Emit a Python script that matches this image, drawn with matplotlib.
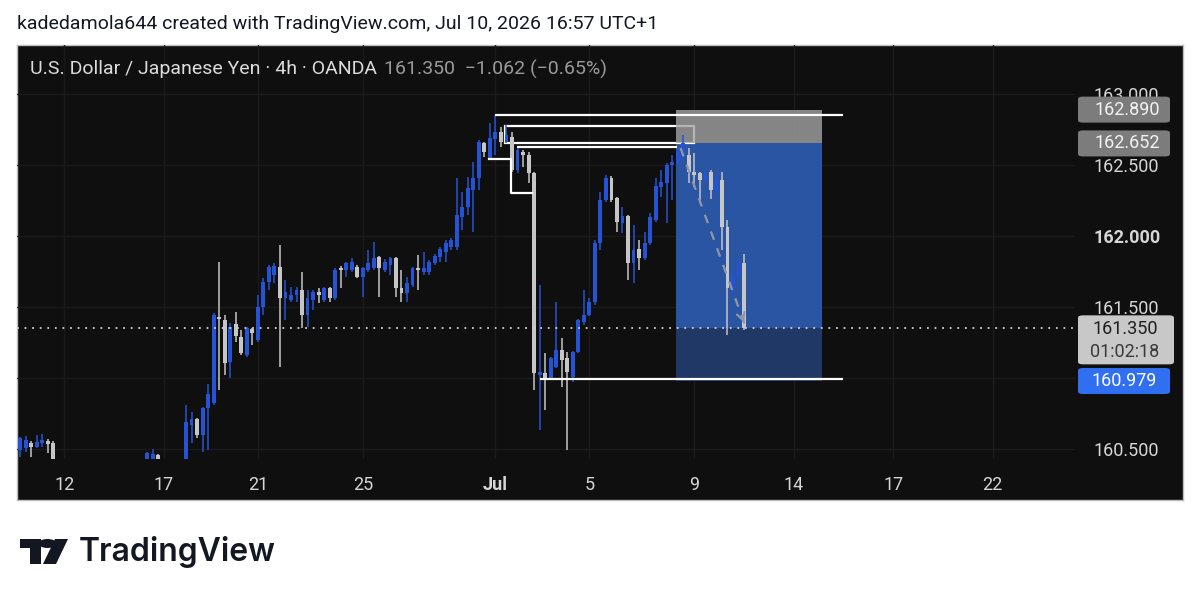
import matplotlib
matplotlib.use("Agg")
import matplotlib.pyplot as plt
from matplotlib.patches import Rectangle, FancyBboxPatch, Polygon, Circle
import numpy as np

plt.rcParams['font.family'] = ['Roboto', 'DejaVu Sans']

# ---------------- data (USD/JPY 4h, OANDA) ----------------
opens = [160.493, 160.507, 160.542, 160.514, 160.542, 160.556, 160.542, 160.35, 160.25, 160.28,
         160.22, 160.27, 160.31, 160.26, 160.18, 160.21, 160.29, 160.34, 160.30, 160.27,
         160.32, 160.35, 160.31, 160.38, 160.40, 160.458, 160.40, 160.30, 160.33, 160.28,
         160.30, 160.669, 160.711, 160.599, 160.789, 160.824, 161.430, 161.408, 161.113, 161.380,
         161.289, 161.162, 161.345, 161.268, 161.500, 161.676, 161.725, 161.782, 161.563, 161.549,
         161.585, 161.620, 161.444, 161.549, 161.606, 161.549, 161.634, 161.563, 161.775, 161.761,
         161.761, 161.782, 161.711, 161.761, 161.775, 161.852, 161.761, 161.796, 161.845, 161.634,
         161.599, 161.655, 161.775, 161.746, 161.746, 161.810, 161.852, 161.887, 161.923, 161.923,
         162.134, 162.204, 162.324, 162.408, 162.655, 162.549, 162.683, 162.732, 162.662, 162.697,
         162.465, 162.592, 162.570, 162.444, 161.021, 161.035, 161.000, 161.077, 161.197, 161.141,
         161.007, 161.183, 161.394, 161.444, 161.535, 161.951, 162.254, 162.408, 162.268, 162.092,
         162.141, 161.810, 161.908, 161.845, 161.951, 162.113, 162.345, 162.373, 162.500, 162.521,
         162.600, 162.570, 162.451, 162.444, 162.394, 162.451, 162.324, 162.394, 162.063, 161.634,
         161.711, 161.810]
highs = [160.585, 160.592, 160.556, 160.599, 160.606, 160.570, 160.556, 160.38, 160.32, 160.33,
         160.30, 160.35, 160.36, 160.30, 160.26, 160.33, 160.37, 160.38, 160.36, 160.34,
         160.39, 160.38, 160.40, 160.479, 160.500, 160.465, 160.42, 160.36, 160.40, 160.36,
         160.810, 160.761, 160.718, 160.796, 160.958, 161.458, 161.817, 161.444, 161.387, 161.465,
         161.338, 161.359, 161.352, 161.585, 161.704, 161.796, 161.810, 161.937, 161.690, 161.641,
         161.641, 161.746, 161.620, 161.620, 161.634, 161.641, 161.641, 161.775, 161.789, 161.817,
         161.845, 161.796, 161.780, 161.901, 161.958, 161.859, 161.838, 161.852, 161.852, 161.761,
         161.711, 161.782, 161.866, 161.887, 161.831, 161.873, 161.923, 161.972, 161.986, 162.408,
         162.310, 162.415, 162.521, 162.676, 162.662, 162.796, 162.852, 162.768, 162.782, 162.732,
         162.627, 162.606, 162.592, 162.451, 161.655, 161.176, 161.148, 161.535, 161.282, 161.183,
         161.190, 161.415, 161.620, 161.563, 161.972, 162.310, 162.430, 162.423, 162.275, 162.204,
         162.148, 162.077, 161.972, 162.028, 162.162, 162.408, 162.465, 162.514, 162.570, 162.627,
         162.711, 162.620, 162.585, 162.451, 162.460, 162.465, 162.430, 162.451, 162.113, 161.760,
         161.850, 161.873]
lows = [160.444, 160.479, 160.444, 160.507, 160.514, 160.472, 160.300, 160.20, 160.15, 160.18,
        160.10, 160.20, 160.22, 160.12, 160.08, 160.17, 160.24, 160.25, 160.21, 160.19,
        160.26, 160.28, 160.27, 160.33, 160.35, 160.33, 160.25, 160.20, 160.24, 160.22,
        160.25, 160.542, 160.577, 160.479, 160.493, 160.810, 160.915, 161.021, 161.000, 161.254,
        161.162, 161.148, 161.232, 161.254, 161.444, 161.620, 161.669, 161.077, 161.408, 161.535,
        161.535, 161.352, 161.359, 161.479, 161.528, 161.535, 161.535, 161.549, 161.634, 161.711,
        161.746, 161.704, 161.570, 161.746, 161.761, 161.570, 161.746, 161.725, 161.570, 161.535,
        161.535, 161.641, 161.620, 161.725, 161.725, 161.796, 161.817, 161.817, 161.901, 161.901,
        162.042, 162.148, 162.028, 162.324, 162.556, 162.542, 162.570, 162.627, 162.655, 162.451,
        162.444, 162.486, 162.373, 160.915, 160.634, 160.775, 160.986, 161.070, 160.937, 160.493,
        160.972, 161.176, 161.373, 161.437, 161.514, 161.901, 162.239, 162.239, 162.028, 162.021,
        161.690, 161.669, 161.761, 161.831, 161.937, 162.099, 162.275, 162.092, 162.254, 162.500,
        162.535, 162.373, 162.345, 162.254, 162.380, 162.261, 162.300, 161.901, 161.303, 161.600,
        161.700, 161.338]
closes = [160.577, 160.563, 160.514, 160.549, 160.563, 160.535, 160.350, 160.25, 160.28, 160.22,
          160.27, 160.31, 160.26, 160.18, 160.21, 160.29, 160.34, 160.30, 160.27, 160.32,
          160.35, 160.31, 160.38, 160.472, 160.465, 160.40, 160.30, 160.33, 160.28, 160.30,
          160.690, 160.711, 160.599, 160.789, 160.887, 161.444, 161.415, 161.106, 161.359, 161.296,
          161.176, 161.352, 161.317, 161.500, 161.676, 161.782, 161.789, 161.563, 161.606, 161.585,
          161.620, 161.444, 161.563, 161.606, 161.585, 161.634, 161.563, 161.761, 161.761, 161.810,
          161.817, 161.711, 161.775, 161.810, 161.845, 161.775, 161.817, 161.845, 161.634, 161.599,
          161.669, 161.775, 161.761, 161.775, 161.817, 161.859, 161.908, 161.951, 161.972, 162.148,
          162.204, 162.338, 162.408, 162.662, 162.592, 162.690, 162.732, 162.662, 162.711, 162.465,
          162.606, 162.570, 162.444, 161.035, 161.042, 160.986, 161.141, 161.197, 161.127, 161.042,
          161.183, 161.408, 161.444, 161.535, 161.951, 162.254, 162.408, 162.254, 162.099, 162.141,
          161.810, 161.901, 161.845, 161.951, 162.134, 162.352, 162.380, 162.500, 162.521, 162.606,
          162.655, 162.451, 162.430, 162.394, 162.430, 162.324, 162.394, 162.063, 161.634, 161.711,
          161.810, 161.350]

date_tick_pos = [8, 26, 43, 62, 86, 103, 122, 140, 158, 176]
date_tick_labels = ["12", "17", "21", "25", "Jul", "5", "9", "14", "17", "22"]
price_ticks = [160.5, 161.0, 161.5, 162.0, 162.5, 163.0]

last_price = 161.350
change_text = "\u22121.062 (\u22120.65%)"
countdown = "01:02:18"

# short position tool
entry_price = 162.652
stop_price = 162.890
target_price = 160.979
pos_left, pos_right = 118.65, 145.1

# drawn levels (price, start bar, end bar)
level_lines = [(162.852, 85.9, 148.9), (162.627, 89.9, 118.8), (160.990, 94.1, 148.9)]
box_level = (87.8, 121.9, 162.655, 162.775)
bracket_x = [84.8, 88.8, 88.8, 92.6]
bracket_y = [162.542, 162.542, 162.303, 162.303]
arrow_start = (119.5, 162.62)
arrow_end = (131.2, 161.37)

# ---------------- colours ----------------
UP = '#2453d6'
DOWN = '#c6c6c6'
PANE = '#0f0f0f'
TXT = '#d6d6d6'

W, H = 1200, 600
fig = plt.figure(figsize=(12, 6), dpi=100)
fig.patch.set_facecolor('white')

def fx(px):
    return px / W

def fy(py):
    return 1 - py / H

# panel background
bg = fig.add_axes([fx(17), fy(500), fx(1183) - fx(17), fy(45) - fy(500)])
bg.set_facecolor(PANE)
bg.set_xticks([]); bg.set_yticks([])
for s in bg.spines.values():
    s.set_color('#bdbdbd'); s.set_linewidth(1.0)
bg.set_zorder(0)

ax = fig.add_axes([fx(17), fy(459), fx(1075) - fx(17), fy(45) - fy(459)])
ax.set_zorder(1)
ax.set_facecolor('none')
for s in ax.spines.values():
    s.set_visible(False)
ax.set_xlim(-0.59, 190.9)
ax.set_ylim(160.430, 163.345)

x = np.arange(len(opens))
o = np.array(opens); h = np.array(highs); l = np.array(lows); c = np.array(closes)
cols = np.where(c >= o, UP, DOWN)

# faint grid
for t in date_tick_pos:
    ax.axvline(t, color='#1a1a1a', lw=1, zorder=0)
for t in price_ticks:
    ax.axhline(t, color='#1a1a1a', lw=1, zorder=0)

# position tool boxes
ax.add_patch(Rectangle((pos_left, entry_price), pos_right - pos_left, stop_price - entry_price,
                       facecolor='#a3a3a3', alpha=0.8, edgecolor='none', zorder=2.5))
ax.add_patch(Rectangle((pos_left, last_price), pos_right - pos_left, entry_price - last_price,
                       facecolor='#2a55a3', edgecolor='none', zorder=1))
ax.add_patch(Rectangle((pos_left, target_price), pos_right - pos_left, last_price - target_price,
                       facecolor='#1f3866', edgecolor='none', zorder=1))

# candles
ax.vlines(x, l, h, colors=cols, lw=1.1, zorder=3)
body_bottom = np.minimum(o, c)
body_h = np.maximum(np.abs(c - o), 0.012)
ax.bar(x, body_h, bottom=body_bottom, width=0.7, color=cols, linewidth=0, zorder=3)

# drawn levels
for p, x0, x1 in level_lines:
    ax.plot([x0, x1], [p, p], color='white', lw=1.6, zorder=4, solid_capstyle='butt')
bx0, bx1, by0, by1 = box_level
ax.add_patch(Rectangle((bx0, by0), bx1 - bx0, by1 - by0, facecolor='none',
                       edgecolor='white', lw=1.6, zorder=2))
ax.plot(bracket_x, bracket_y, color='white', lw=1.6, zorder=4)

# current price dotted line
ax.axhline(last_price, color='#d0d0d0', lw=1.3, linestyle=(0, (1, 3.2)), zorder=5)

# dashed projection arrow
ax.plot([arrow_start[0], arrow_end[0]], [arrow_start[1], arrow_end[1]],
        color='#9098a8', lw=1.6, linestyle=(0, (4, 4)), zorder=5)
ax.annotate('', xy=arrow_end,
            xytext=(arrow_end[0] - (arrow_end[0] - arrow_start[0]) * 0.06,
                    arrow_end[1] - (arrow_end[1] - arrow_start[1]) * 0.06),
            arrowprops=dict(arrowstyle='->', color='#9098a8', lw=1.6,
                            mutation_scale=14), zorder=5)

# axes ticks
ax.set_xticks(date_tick_pos)
ax.set_xticklabels(date_tick_labels)
ax.tick_params(axis='x', length=0, pad=12, labelsize=13, labelcolor=TXT)
for lab in ax.get_xticklabels():
    if lab.get_text() == 'Jul':
        lab.set_fontweight('bold')
ax.yaxis.tick_right()
ax.set_yticks(price_ticks)
ax.set_yticklabels([f"{p:.3f}" for p in price_ticks])
ax.tick_params(axis='y', length=0, pad=13, labelsize=13, labelcolor=TXT)
for lab in ax.get_yticklabels():
    if lab.get_text() == '162.000':
        lab.set_fontweight('bold')

fig.canvas.draw()

def price_to_figy(p):
    return ax.transData.transform((0, p))[1] / (H)

def label_box(price, fc, hpx=26):
    yc = price_to_figy(price)
    hh = hpx / H
    box = FancyBboxPatch((fx(1078), yc - hh / 2), fx(1170) - fx(1078), hh,
                         boxstyle='round,pad=0,rounding_size=0.004',
                         transform=fig.transFigure, facecolor=fc, edgecolor='none',
                         zorder=10)
    fig.patches.append(box)
    return yc

yc = label_box(stop_price, '#7c7c7c')
fig.text(fx(1127), yc, f"{stop_price:.3f}", ha='center', va='center', color='#f2f2f2',
         fontsize=13, zorder=11)
yc = label_box(entry_price, '#7c7c7c')
fig.text(fx(1127), yc, f"{entry_price:.3f}", ha='center', va='center', color='#f2f2f2',
         fontsize=13, zorder=11)
# current price with countdown
yc0 = price_to_figy(last_price)
hh = 49 / H
fig.patches.append(FancyBboxPatch((fx(1078), yc0 - 13 / H - 23 / H), fx(1174) - fx(1078), hh,
                                  boxstyle='round,pad=0,rounding_size=0.004',
                                  transform=fig.transFigure, facecolor='#c8c8c8',
                                  edgecolor='none', zorder=10))
fig.text(fx(1125), yc0 - 1 / H, f"{last_price:.3f}", ha='center', va='center', color='#1e1e1e',
         fontsize=13, zorder=11)
fig.text(fx(1125), yc0 - 24 / H, countdown, ha='center', va='center', color='#3a3a3a',
         fontsize=13, zorder=11)
yc = label_box(target_price, '#2f6ff0')
fig.text(fx(1124), yc, f"{target_price:.3f}", ha='center', va='center', color='white',
         fontsize=13, zorder=11)

# header texts
fig.text(fx(17), fy(24), "kadedamola644 created with TradingView.com, Jul 10, 2026 16:57 UTC+1",
         ha='left', va='center', fontsize=14, color='#131722')
fig.text(fx(30), fy(69), "U.S. Dollar / Japanese Yen \u00b7 4h \u00b7 OANDA",
         ha='left', va='center', fontsize=14, color='#dcdcdc', zorder=12)
fig.text(fx(384), fy(69), f"{last_price:.3f}  {change_text}", ha='left', va='center',
         fontsize=14, color='#9a9a9a', zorder=12)

# TradingView logo
logo_col = '#131722'
fig.patches.append(Polygon([(fx(20), fy(539)), (fx(41), fy(539)), (fx(41), fy(564)),
                            (fx(30), fy(564)), (fx(30), fy(548)), (fx(20), fy(548))],
                           closed=True, transform=fig.transFigure, facecolor=logo_col,
                           edgecolor='none'))
fig.patches.append(Circle((fx(47.5), fy(543.5)), 4.5 / H, transform=fig.transFigure,
                          facecolor=logo_col, edgecolor='none'))
fig.patches.append(Polygon([(fx(55), fy(539)), (fx(68), fy(539)), (fx(56), fy(564)),
                            (fx(43), fy(564))], closed=True, transform=fig.transFigure,
                           facecolor=logo_col, edgecolor='none'))
fig.text(fx(79), fy(552), "TradingView", ha='left', va='center', fontsize=23,
         fontweight='semibold', family=['Inter', 'DejaVu Sans'], color=logo_col)

fig.savefig('out.png', dpi=100, facecolor='white')
